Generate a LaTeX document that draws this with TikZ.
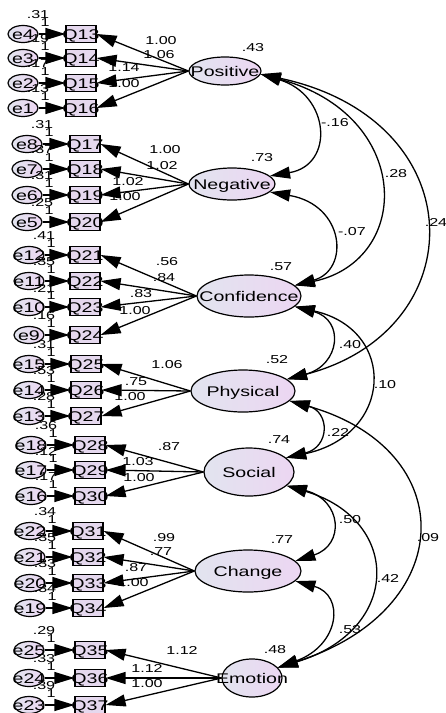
\documentclass[tikz,border=0pt]{standalone}
\usepackage{fontspec}
\setmainfont{Liberation Sans}
\usepackage{graphicx}
\usetikzlibrary{shapes.geometric,arrows.meta}

% widened Arial-like lettering
\newcommand\wide[1]{\scalebox{1.4}[1]{#1}}
% centred text that does not enlarge its node
\newcommand\ctr[1]{\makebox[0pt]{\raisebox{-.36em}[0pt][0pt]{\wide{#1}}}}
\newcommand\facname[1]{\fontsize{14}{14}\selectfont\ctr{#1}}
\newcommand\itemname[1]{\fontsize{14}{14}\selectfont\ctr{#1}}

\definecolor{shadeL}{HTML}{E2E4EF}
\definecolor{shadeR}{HTML}{ECD6F2}
\definecolor{boxfill}{HTML}{E5D8EE}

\tikzset{
  latent/.style={ellipse, draw=black, line width=1.2pt, left color=shadeL, right color=shadeR, inner sep=0pt},
  errvar/.style={ellipse, draw=black, line width=1.2pt, left color=shadeL, right color=shadeR,
                 minimum width=30pt, minimum height=17pt, inner sep=0pt},
  indbox/.style={rectangle, draw=black, line width=1.2pt, fill=boxfill,
                 minimum width=30pt, minimum height=17pt, inner sep=0pt},
  num/.style={inner sep=0pt, font=\fontsize{11.5}{11.5}\selectfont},
  ld/.style={->, line width=1.3pt},
  errpath/.style={->, line width=1.3pt},
  cov/.style={<->, line width=1.3pt},
}

\begin{document}
\begin{tikzpicture}[x=1pt, y=-1pt, >={Triangle[length=20pt,width=12pt]}]
\fill[white] (0,0) rectangle (446,713);
\useasboundingbox (0,0) rectangle (446,713);

% ---- latent factors
\node[latent, minimum width=72pt,  minimum height=28pt] (pos)  at (225,71)  {\facname{Positive}};
\node[latent, minimum width=86pt,  minimum height=32pt] (neg)  at (232,184) {\facname{Negative}};
\node[latent, minimum width=104pt, minimum height=42pt] (conf) at (249,296) {\facname{Confidence}};
\node[latent, minimum width=104pt, minimum height=42pt] (phys) at (243,391) {\facname{Physical}};
\node[latent, minimum width=90pt,  minimum height=48pt] (soc)  at (249,472) {\facname{Social}};
\node[latent, minimum width=106pt, minimum height=42pt] (chg)  at (248,571) {\facname{Change}};
\node[latent, minimum width=60pt,  minimum height=38pt] (emo)  at (252,678) {\facname{Emotion}};

% ---- observed items with their error terms
\foreach \qi/\ei/\exx/\qxx/\yy/\vv in {
  13/4/23/81/34/.31, 14/3/23/81/58/.19, 15/2/23/81/83/.17, 16/1/23/81/108/.13,
  17/8/27/85/144/.31, 18/7/27/85/169/.37, 19/6/27/85/195/.31, 20/5/27/85/222/.25,
  21/12/29/85/255/.41, 22/11/29/85/281/.35, 23/10/29/85/307/.21, 24/9/29/85/335/.16,
  25/15/29/86/364/.31, 26/14/29/86/390/.53, 27/13/29/86/416/.28,
  28/18/31/90/445/.36, 29/17/31/90/470/.12, 30/16/31/90/496/.17,
  31/22/30/88/531/.34, 32/21/30/88/557/.35, 33/20/30/88/583/.33, 34/19/30/88/608/.34,
  35/25/29/90/650/.29, 36/24/29/90/678/.33, 37/23/29/90/705/.39} {
  \node[indbox] (q\qi) at (\qxx,\yy) {\itemname{Q\qi}};
  \node[errvar] (e\ei) at (\exx,\yy) {\itemname{e\ei}};
  \node[num] (ve\ei) at (\exx+15,\yy-19) {\wide{\vv}};
  \node[num] (one\ei) at (\exx+22,\yy-11) {\wide{1}};
  \draw[errpath] (e\ei) -- (q\qi);
}

% ---- factor loadings
\foreach \qi in {13,...,16} \draw[ld] (pos.west) -- (q\qi.east);
\foreach \qi in {17,...,20} \draw[ld] (neg.west) -- (q\qi.east);
\foreach \qi in {21,...,24} \draw[ld] (conf.west) -- (q\qi.east);
\foreach \qi in {25,...,27} \draw[ld] (phys.west) -- (q\qi.east);
\foreach \qi in {28,...,30} \draw[ld] (soc.west) -- (q\qi.east);
\foreach \qi in {31,...,34} \draw[ld] (chg.west) -- (q\qi.east);
\foreach \qi in {35,...,37} \draw[ld] (emo.west) -- (q\qi.east);

\node[num] (w13) at (161,41)  {\wide{1.00}};
\node[num] (w14) at (159,55)  {\wide{1.06}};
\node[num] (w15) at (124,68)  {\wide{1.14}};
\node[num] (w16) at (124,84)  {\wide{1.00}};
\node[num] (w17) at (165,150) {\wide{1.00}};
\node[num] (w18) at (162,166) {\wide{1.02}};
\node[num] (w19) at (128,182) {\wide{1.02}};
\node[num] (w20) at (125,197) {\wide{1.00}};
\node[num] (w21) at (167,262) {\wide{.56}};
\node[num] (w22) at (164,278) {\wide{.84}};
\node[num] (w23) at (141,294) {\wide{.83}};
\node[num] (w24) at (135,311) {\wide{1.00}};
\node[num] (w25) at (167,365) {\wide{1.06}};
\node[num] (w26) at (136,382) {\wide{.75}};
\node[num] (w27) at (130,397) {\wide{1.00}};
\node[num] (w28) at (169,447) {\wide{.87}};
\node[num] (w29) at (138,462) {\wide{1.03}};
\node[num] (w30) at (139,478) {\wide{1.00}};
\node[num] (w31) at (164,538) {\wide{.99}};
\node[num] (w32) at (161,552) {\wide{.77}};
\node[num] (w33) at (136,568) {\wide{.87}};
\node[num] (w34) at (133,583) {\wide{1.00}};
\node[num] (w35) at (182,650) {\wide{1.12}};
\node[num] (w36) at (147,668) {\wide{1.12}};
\node[num] (w37) at (147,684) {\wide{1.00}};

% ---- factor variances
\node[num] (vpos)  at (253,48)  {\wide{.43}};
\node[num] (vneg)  at (262,158) {\wide{.73}};
\node[num] (vconf) at (281,267) {\wide{.57}};
\node[num] (vphys) at (277,360) {\wide{.52}};
\node[num] (vsoc)  at (279,440) {\wide{.74}};
\node[num] (vchg)  at (282,540) {\wide{.77}};
\node[num] (vemo)  at (275,650) {\wide{.48}};

% ---- factor covariances
\draw[cov] (pos.-5)   .. controls (330,95)  and (335,165) .. (neg.12);
\draw[cov] (neg.-12)  .. controls (345,205) and (350,270) .. (conf.13);
\draw[cov] (pos.-5)   .. controls (413,115) and (413,260) .. (conf.13);
\draw[cov] (pos.-5)   .. controls (475,120) and (475,330) .. (phys.15);
\draw[cov] (conf.-13) .. controls (345,320) and (340,365) .. (phys.15);
\draw[cov] (conf.-13) .. controls (398,330) and (393,435) .. (soc.21);
\draw[cov] (phys.-12) .. controls (330,412) and (330,447) .. (soc.21);
\draw[cov] (soc.-20)  .. controls (342,500) and (345,545) .. (chg.12);
\draw[cov] (soc.-20)  .. controls (402,520) and (402,630) .. (emo.22);
\draw[cov] (phys.-12) .. controls (462,450) and (459,610) .. (emo.22);
\draw[cov] (chg.-12)  .. controls (345,595) and (340,645) .. (emo.22);

\node[num] (c1)  at (335,123) {\wide{-.16}};
\node[num] (c2)  at (352,232) {\wide{-.07}};
\node[num] (c3)  at (396,174) {\wide{.28}};
\node[num] (c4)  at (436,222) {\wide{.24}};
\node[num] (c5)  at (350,345) {\wide{.40}};
\node[num] (c6)  at (385,385) {\wide{.10}};
\node[num] (c7)  at (338,432) {\wide{.22}};
\node[num] (c8)  at (350,520) {\wide{.50}};
\node[num] (c9)  at (388,578) {\wide{.42}};
\node[num] (c10) at (428,538) {\wide{.09}};
\node[num] (c11) at (350,630) {\wide{.53}};
\end{tikzpicture}
\end{document}
